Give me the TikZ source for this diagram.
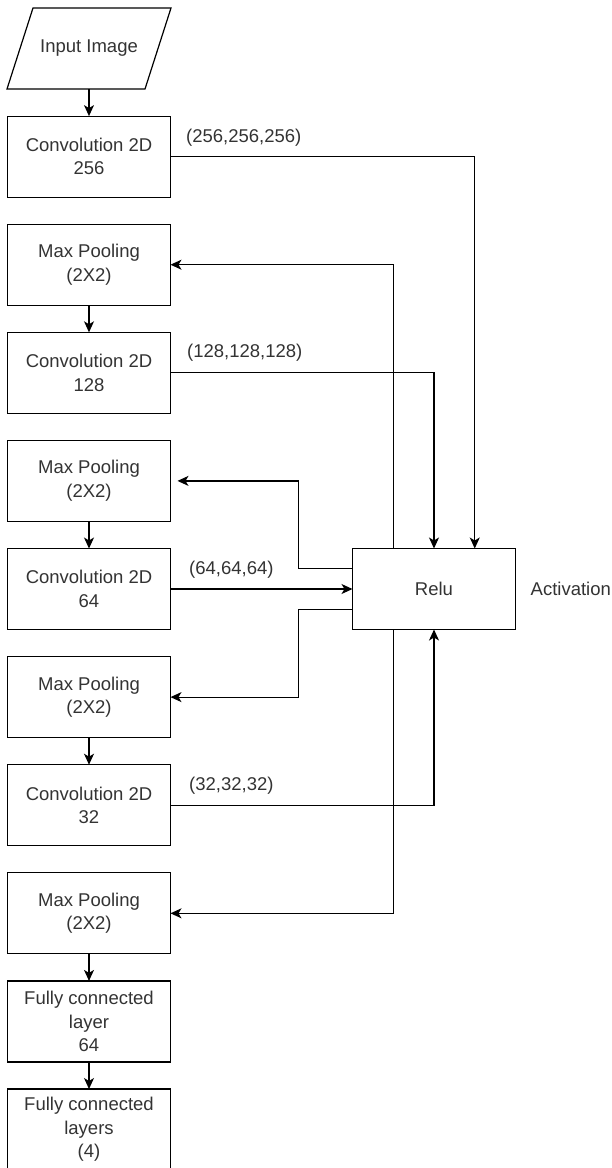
\documentclass[tikz,border=0pt]{standalone}
\usepackage{fontspec}
\setmainfont{Liberation Sans}
\usepackage{tikz}
\usetikzlibrary{positioning,arrows.meta,calc}
\definecolor{cText}{RGB}{51,51,51}

\begin{document}
\begin{tikzpicture}[x=1pt,y=-1pt,
   node distance=27.1pt,
   layer/.style={draw,line width=1.2pt,minimum width=163pt,minimum height=81pt,inner sep=0pt,outer sep=0pt,align=center,text=cText,font=\fontsize{18.5pt}{23.5pt}\selectfont},
   io/.style={layer,draw=none,minimum width=164pt},
   lbl/.style={inner sep=0pt,anchor=west,text=cText,font=\fontsize{18.5pt}{23.5pt}\selectfont},
   arr/.style={line width=1.2pt,-{Stealth[length=11pt,width=10pt,inset=3pt]}}]
  \useasboundingbox (0,0) rectangle (611,1168);
  % main column
  \node[io] (input) at (89,48.5) {Input Image};
  \draw[line width=1.2pt] (input.south west) -- ([xshift=26pt]input.north west)
    -- (input.north east) -- ([xshift=-26pt]input.south east) -- cycle;
  \node[layer,below=of input] (conv256) {Convolution 2D\\256};
  \node[layer,below=of conv256] (pool1) {Max Pooling\\(2X2)};
  \node[layer,below=of pool1] (conv128) {Convolution 2D\\128};
  \node[layer,below=of conv128] (pool2) {Max Pooling\\(2X2)};
  \node[layer,below=of pool2] (conv64) {Convolution 2D\\64};
  \node[layer,below=of conv64] (pool3) {Max Pooling\\(2X2)};
  \node[layer,below=of pool3] (conv32) {Convolution 2D\\32};
  \node[layer,below=of conv32] (pool4) {Max Pooling\\(2X2)};
  \node[layer,below=of pool4] (fc64) {Fully connected\\layer\\64};
  \node[layer,below=of fc64] (fc4) {Fully connected\\layers\\(4)};
  % activation block
  \node[layer,right=182pt of conv64] (relu) {Relu};
  \node[lbl,right=15pt of relu] (act) {Activation};
  % shape labels
  \node[lbl] (s256) at (186,138) {(256,256,256)};
  \node[lbl] (s128) at (187,353) {(128,128,128)};
  \node[lbl] (s64) at (189,570) {(64,64,64)};
  \node[lbl] (s32) at (189,786) {(32,32,32)};
  % edges down the column
  \draw[arr] (input) -- (conv256);
  \draw[arr] (pool1) -- (conv128);
  \draw[arr] (pool2) -- (conv64);
  \draw[arr] (pool3) -- (conv32);
  \draw[arr] (pool4) -- (fc64);
  \draw[arr] (fc64) -- (fc4);
  % edges convs->relu
  \draw[arr] (conv256.east) -| ($(relu.north)!.5!(relu.north east)$);
  \draw[arr] (conv128.east) -| (relu.north);
  \draw[arr] (conv64) -- (relu);
  \draw[arr] (conv32.east) -| (relu.south);
  % edges relu->pools
  \draw[arr] ($(relu.north)!.5!(relu.north west)$) |- (pool1.east);
  \draw[arr] ($(relu.west)!.5!(relu.north west)$) -- ++(-54,0) |- ([xshift=7pt]pool2.east);
  \draw[arr] ($(relu.west)!.5!(relu.south west)$) -- ++(-54,0) |- (pool3.east);
  \draw[arr] ($(relu.south)!.5!(relu.south west)$) |- (pool4.east);
\end{tikzpicture}
\end{document}
